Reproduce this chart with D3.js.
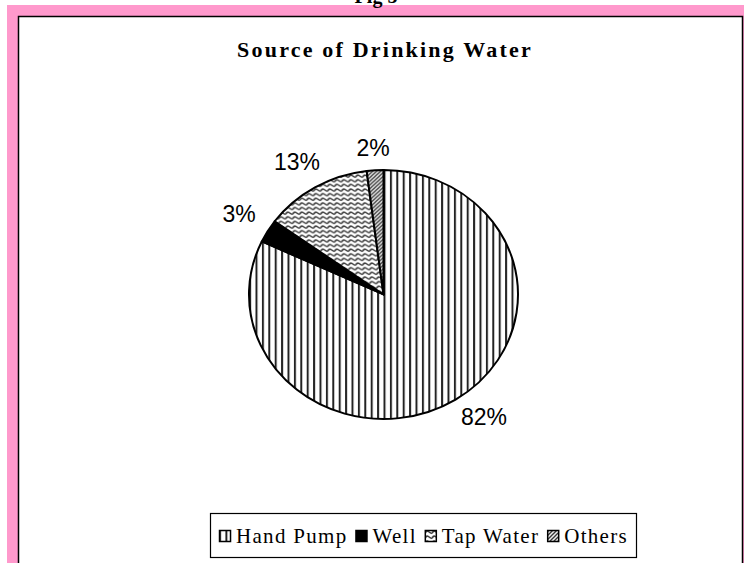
<!DOCTYPE html>
<html><head><meta charset="utf-8">
<script src="https://cdn.jsdelivr.net/npm/d3@7"></script>
<style>html,body{margin:0;padding:0;background:#fff;}svg{display:block;}</style>
</head><body>
<script>
const categories = ["Hand Pump", "Well", "Tap Water", "Others"];
const values = [82, 3, 13, 2];
const labels = ["82%", "3%", "13%", "2%"];
const title = "Source of Drinking Water";
const figLabel = "Fig 5";

const W = 744, H = 563;
const svg = d3.select("body").append("svg").attr("width", W).attr("height", H);
const defs = svg.append("defs");

// patterns
const pV = defs.append("pattern").attr("id","pV").attr("patternUnits","userSpaceOnUse").attr("width",6.4).attr("height",10);
pV.append("rect").attr("width",6.4).attr("height",10).attr("fill","#fff");
pV.append("rect").attr("x",0).attr("width",2).attr("height",10).attr("fill","#222");

const pW = defs.append("pattern").attr("id","pW").attr("patternUnits","userSpaceOnUse").attr("width",7).attr("height",5);
pW.append("rect").attr("width",7).attr("height",5).attr("fill","#fff");
pW.append("path").attr("d","M0,3.5 Q1.75,0 3.5,1.5 T7,3.5").attr("fill","none").attr("stroke","#333").attr("stroke-width",1.5);

const pD = defs.append("pattern").attr("id","pD").attr("patternUnits","userSpaceOnUse").attr("width",4).attr("height",4);
pD.append("rect").attr("width",4).attr("height",4).attr("fill","#fff");
pD.append("path").attr("d","M-1,1 L1,-1 M0,4 L4,0 M3,5 L5,3").attr("stroke","#222").attr("stroke-width",1.3);

const fills = ["url(#pV)", "#000", "url(#pW)", "url(#pD)"];

// frame
svg.append("rect").attr("x",7).attr("y",5).attr("width",W-7).attr("height",H-5).attr("fill","#FF99CC");
svg.append("rect").attr("x",18.5).attr("y",16.5).attr("width",742.5-18.5).attr("height",H).attr("fill","#fff").attr("stroke","#000").attr("stroke-width",1.5);

// fig label (cut off at top, as in the original)
svg.append("text").attr("x",376).attr("y",2.5).attr("text-anchor","middle")
  .attr("font-family","Liberation Serif, Times New Roman, serif").attr("font-weight","bold").attr("font-size",20)
  .text(figLabel);

// title
svg.append("text").attr("x",385).attr("y",57).attr("text-anchor","middle")
  .attr("font-family","Liberation Serif, Times New Roman, serif").attr("font-weight","bold").attr("font-size",22)
  .attr("letter-spacing","2.2px")
  .text(title);

// pie
const cx = 383.5, cy = 294.5, rx = 134.5, ry = 124.5;
const pie = d3.pie().sort(null).value(d => d);
const arcs = pie(values);
const arc = d3.arc().innerRadius(0).outerRadius(rx);
const g = svg.append("g").attr("transform",`translate(${cx},${cy}) scale(1,${ry/rx})`);
g.selectAll("path").data(arcs).join("path")
  .attr("d", arc).attr("fill",(d,i)=>fills[i])
  .attr("stroke","#000").attr("stroke-width",2).attr("stroke-linejoin","round");

// labels
const labelPos = [[484,425],[239,222],[297,170],[373,156]];
svg.selectAll("text.lbl").data(arcs).join("text").attr("class","lbl")
  .attr("x",(d,i)=>labelPos[i][0]).attr("y",(d,i)=>labelPos[i][1])
  .attr("text-anchor","middle")
  .attr("font-family","Liberation Sans, Arial, sans-serif").attr("font-size",23)
  .text((d,i)=>labels[i]);

// legend
const boxX = 210.5, boxW = 426;
const lg = svg.append("g");
lg.append("rect").attr("x",boxX).attr("y",513.5).attr("width",boxW).attr("height",44)
  .attr("fill","#fff").attr("stroke","#000").attr("stroke-width",1.2);
const items = lg.selectAll("g.it").data(categories).join("g").attr("class","it");
items.append("rect").attr("x",0.5).attr("y",530.5).attr("width",11).attr("height",11)
  .attr("fill",(d,i)=>fills[i]).attr("stroke","#000").attr("stroke-width",1.5);
const txt = items.append("text").attr("x",17).attr("y",543)
  .attr("font-family","Liberation Serif, Times New Roman, serif").attr("font-size",21)
  .attr("letter-spacing","1.3px")
  .text(d=>d);
const widths = txt.nodes().map(n => n.getComputedTextLength());
const gap = 8;
const total = d3.sum(widths) + categories.length * 17 + gap * (categories.length - 1);
let x0 = boxX + (boxW - total) / 2;
items.attr("transform", (d, i) => {
  const x = x0; x0 += 17 + widths[i] + gap; return `translate(${x},0)`;
});
</script>
</body></html>
